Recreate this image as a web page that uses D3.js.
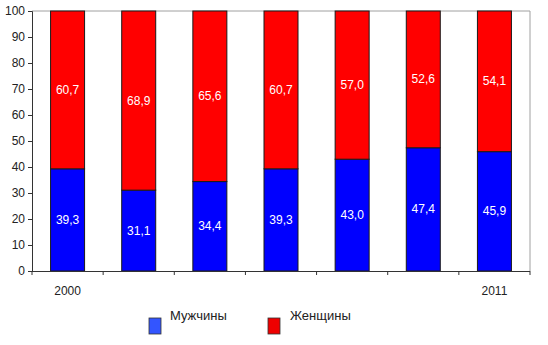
<!DOCTYPE html>
<html><head><meta charset="utf-8">
<script src="https://cdn.jsdelivr.net/npm/d3@7"></script>
<style>body{margin:0;background:#fff}svg{display:block}</style>
</head><body><svg id="c" width="548" height="345"></svg>
<script>
const years = ["2000","2001","2002","2003","2004","2005","2011"];
const shownLabels = ["2000","", "", "", "", "", "2011"];
const men = [39.3, 31.1, 34.4, 39.3, 43.0, 47.4, 45.9];
const women = [60.7, 68.9, 65.6, 60.7, 57.0, 52.6, 54.1];
const seriesNames = ["Мужчины","Женщины"];
const yTicks = [0,10,20,30,40,50,60,70,80,90,100];

const svg = d3.select("#c");
const L=32, R=530, T=11, B=271;
const font = "Liberation Sans, Arial, sans-serif";
const xb = d3.scaleBand().domain(d3.range(years.length)).range([L,R]);
const y = d3.scaleLinear().domain([0,100]).range([B,T]);

// plot border (top and right)
svg.append("path").attr("d",`M${L},${T}H${R}V${B}`).attr("fill","none").attr("stroke","#a0a0a0").attr("stroke-width",1);

const data = years.map((yr,i)=>({i, m:men[i], w:women[i]}));
const fmt = v => v.toFixed(1).replace(".",",");
const g = svg.append("g");
data.forEach(d=>{
  const cx = xb(d.i)+xb.bandwidth()/2, bw=34;
  g.append("rect").attr("x",cx-bw/2).attr("width",bw).attr("y",y(d.m)).attr("height",y(0)-y(d.m))
   .attr("fill","#0000ff").attr("stroke","#1a1a1a").attr("stroke-width",1);
  g.append("rect").attr("x",cx-bw/2).attr("width",bw).attr("y",y(d.m+d.w)).attr("height",y(d.m)-y(d.m+d.w))
   .attr("fill","#ff0000").attr("stroke","#1a1a1a").attr("stroke-width",1);
  g.append("text").attr("x",cx).attr("y",y(d.m/2)+4).attr("text-anchor","middle").attr("fill","#fff")
   .attr("font-family",font).attr("font-size",12).text(fmt(d.m));
  g.append("text").attr("x",cx).attr("y",y(d.m+d.w/2)+4).attr("text-anchor","middle").attr("fill","#fff")
   .attr("font-family",font).attr("font-size",12).text(fmt(d.w));
});

// y axis
const ya = svg.append("g").attr("transform",`translate(${L},0)`)
  .call(d3.axisLeft(y).tickValues(yTicks).tickSize(4).tickPadding(3).tickFormat(d3.format("d")));
ya.select(".domain").attr("stroke","#333");
ya.selectAll("line").attr("stroke","#333");
ya.selectAll("text").attr("font-family",font).attr("font-size",12).attr("fill","#222");

// x axis
const boundaries = d3.range(years.length+1).map(i=>L+i*xb.step());
const xa = svg.append("g");
xa.append("line").attr("x1",L).attr("x2",R).attr("y1",B+0.5).attr("y2",B+0.5).attr("stroke","#333");
boundaries.forEach(bx=>xa.append("line").attr("x1",bx).attr("x2",bx).attr("y1",B).attr("y2",B+4).attr("stroke","#333"));
shownLabels.forEach((t,i)=>{ if(t) xa.append("text").attr("x",xb(i)+xb.bandwidth()/2).attr("y",B+24).attr("text-anchor","middle")
  .attr("font-family",font).attr("font-size",12).attr("fill","#222").text(t); });

// legend
const leg = [{n:seriesNames[0],c:"#3355ff",x:149,tx:170},{n:seriesNames[1],c:"#ee0000",x:268,tx:290}];
leg.forEach(l=>{
  svg.append("rect").attr("x",l.x).attr("y",318).attr("width",12).attr("height",16).attr("fill",l.c).attr("stroke","#333").attr("stroke-width",0.8);
  svg.append("text").attr("x",l.tx).attr("y",320).attr("font-family",font).attr("font-size",13).attr("fill","#222").text(l.n);
});
</script></body></html>
